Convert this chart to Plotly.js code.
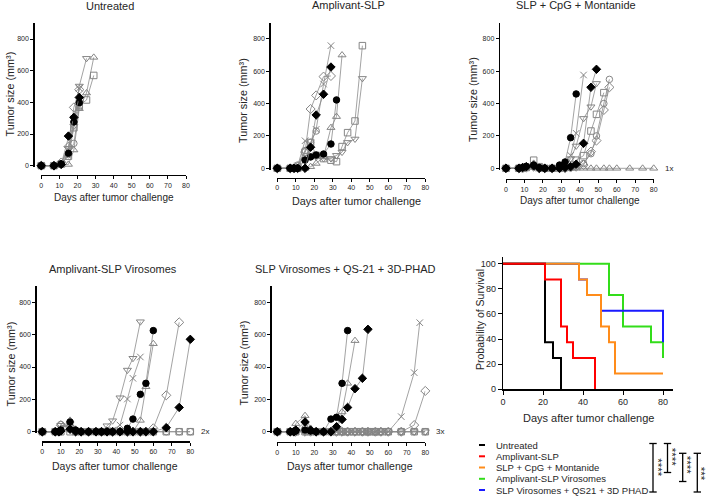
<!DOCTYPE html>
<html><head><meta charset="utf-8">
<script src="https://cdn.plot.ly/plotly-3.0.1.min.js"></script>
<style>body{margin:0;background:#fff}#chart{width:708px;height:499px}</style>
</head><body><div id="chart"></div>
<script>
// ---------- DATA ----------
const PANEL_TITLES = ['Untreated','Amplivant-SLP','SLP + CpG + Montanide','Amplivant-SLP Virosomes','SLP Virosomes + QS-21 + 3D-PHAD'];
const X_TICKS = [0,10,20,30,40,50,60,70,80];
const Y_TICKS = [0,200,400,600,800];
const SURV_X_TICKS = [0,20,40,60,80];
const SURV_Y_TICKS = [0,20,40,60,80,100];

// Panel 1: Untreated
const P1_DAYS = [0,7,11,15,18,21,25,29];
const P1_TU = [0,0,5,8,99,360,459,684];
const P1_TD = [0,0,15,110,250,503,678];
const P1_SQ = [0,0,10,60,240,380,415,570];
const P1_OC = [0,0,10,70,141,370];
const P1_OD = [0,0,20,120,368,480];
const P1_X  = [0,0,15,100,300,490];
const P1_FC = [0,0,12,78,276,398];
const P1_FD = [0,0,8,187,305,431];

// Panel 2: Amplivant-SLP
const P2_DAYS = [0,7,9,11,15,18,21,25,29,32,35,38,42,46];
const P2_TU = [0,0,0,0,0,10,30,70,251,319,699];
const P2_TD = [0,0,0,0,50,80,70,60,60,80,100,160,181,555];
const P2_SQ = [0,0,0,0,100,160,80,60,50,41,134,220,292,757];
const P2_OC = [0,0,0,20,110,160,230];
const P2_OD = [0,0,0,10,100,366,450,566,570];
const P2_X  = [0,0,0,15,170,150,240,520,757];
const P2_FC = [0,0,0,0,51,70,82,88,150,422];
const P2_FD = [0,0,0,0,0,130,329,457,625];

// Panel 3: SLP + CpG + Montanide
const P3_DAYS = [0,7,9,11,15,18,21,25,29,32,35,38,42,46,49,53,56,60,67,74,80];
const P3_TU = [0,0,0,5,30,0,0,0,0,0,0,0,0,0,0,0,0,0,0,0,0];
const P3_TD = [0,0,0,5,10,0,0,0,0,10,60,138,308,380,524];
const P3_SQ = [0,0,0,5,50,10,0,0,0,5,20,50,78,230,333,467];
const P3_OC = [0,0,0,5,10,5,0,0,0,0,5,10,30,90,200,400,549];
const P3_OD = [0,0,0,5,10,0,0,0,0,0,5,10,20,103,171,360,500];
const P3_X  = [0,0,0,5,10,0,0,0,5,10,80,216,576];
const P3_FC = [0,0,5,12,20,5,0,0,20,39,189,459];
const P3_FD = [0,0,5,10,15,0,0,0,0,5,10,25,154,500,611];

// Panel 4: Amplivant-SLP Virosomes
const P4_DAYS = [0,7,9,10,15,18,21,25,29,32,35,38,42,46,49,53,56,60,67,74,80];
const P4_TU = [0,0,0,20,70,15,0,0,0,0,0,0,0,0,0,70,278,544];
const P4_TD = [0,0,0,40,30,10,0,0,0,0,37,68,210,381,454,680];
const P4_SQ = [0,0,0,0,0,0,0,0,0,0,0,0,0,0,0,0,0,0,0,0,0];
const P4_OC = [0,0,0,45,20,0,0,0,0,0,0,0,0,0,0,0,0,0,0,0,0];
const P4_OD = [0,0,0,40,30,5,0,0,0,0,0,0,0,0,0,0,0,21,225,676];
const P4_X  = [0,0,0,10,20,0,0,0,0,0,0,10,41,202,330,462];
const P4_FC = [0,0,0,10,60,10,0,0,0,0,0,0,0,21,78,231,299,625];
const P4_FD = [0,0,0,5,15,0,0,0,0,0,0,0,0,0,0,0,0,0,25,150,571];

// Panel 5: SLP Virosomes + QS-21 + 3D-PHAD
const P5_DAYS = [0,7,9,10,15,18,21,25,29,32,35,38,42,46,49,53,56,60,67,74,77,80];
const P5_SQ_DAYS = [0,7,9,10,15,18,21,25,29,32,35,37,39,41,43,45,47,49,51,53,55,57,60,67,74,80];
const P5_SQ = [0,0,0,0,0,0,0,0,0,0,0,0,0,0,0,0,0,0,0,0,0,0,0,0,0,0];
const P5_TU = [0,0,0,50,99,20,0,0,5,30,122,299,563];
const P5_TD = [0,0,0,0,0,0,0,0,0,0,0,0,0,0,0,0,0,0,0,0,null,0];
const P5_OC = [0,0,0,10,20,0,0,0,0,0,0,0,0,0,0,0,0,0,0,0,null,0];
const P5_OD = [0,0,0,0,0,0,0,0,0,0,0,0,0,0,0,0,0,0,0,41,null,252];
const P5_X  = [0,0,0,0,5,0,0,0,0,0,0,0,0,0,0,0,0,0,93,365,674];
const P5_FC = [0,0,0,5,10,5,0,0,78,89,299,625];
const P5_FD = [0,0,0,10,60,10,0,0,0,31,76,150,266,330,633];

// Survivors labels
const SURVIVOR_LABELS = ['', '', '1x', '2x', '3x'];

// Survival (Kaplan-Meier)
const GROUPS = ['Untreated','Amplivant-SLP','SLP + CpG + Montanide','Amplivant-SLP Virosomes','SLP Virosomes + QS21 + 3D PHAD'];
const S_UNT_T = [0,21,25,29];          const S_UNT_P = [100,37.5,25,0];
const S_AMP_T = [0,21,29,32,35,46];    const S_AMP_P = [100,87.5,50,37.5,25,0];
const S_CPG_T = [0,38,42,49,53,56,80]; const S_CPG_P = [100,87.5,75,50,37.5,12.5,12.5];
const S_VIR_T = [0,53,60,74,80];       const S_VIR_P = [100,75,50,37.5,25];
const S_QS_T  = [0,38,42,49,80];       const S_QS_P  = [100,87.5,75,62.5,37.5];
const SIG_STARS = ['****','****','****','***'];

// ---------- STYLE / LAYOUT ----------
const W = 708, H = 499;
const fx = p => p / W, fy = p => 1 - p / H;
const FONT = 'Arial, "Liberation Sans", sans-serif';
const TXT = '#262626';
const COLORS = ['#000000','#ff0000','#ff8c1a','#33dd1a','#1a1aff'];
const GRAY = '#858585';
const STYLE = {
  tu:{symbol:'triangle-up-open', size:7, color:GRAY},
  td:{symbol:'triangle-down-open', size:7, color:GRAY},
  sq:{symbol:'square-open', size:6.5, color:GRAY},
  oc:{symbol:'circle-open', size:6.5, color:GRAY},
  od:{symbol:'diamond-open', size:7, color:GRAY},
  x:{symbol:'x-thin-open', size:6.5, color:GRAY},
  fc:{symbol:'circle', size:6.5, color:'#000'},
  fd:{symbol:'diamond', size:6.5, color:'#000'}
};
// pixel geometry of each growth panel: x-domain, y(0), y(800), y-axis line x, x-axis line y
const GEO = [
  {x0:41.3, x1:186,   y0:165.7, y800:39,    yl:33.3,  xl:175},
  {x0:277.3,x1:425.3, y0:168.3, y800:38.7,  yl:269.3, xl:177.7},
  {x0:506,  x1:653.7, y0:168.3, y800:38.7,  yl:498.7, xl:179},
  {x0:42.3, x1:190.3, y0:431.7, y800:302.3, yl:35.3,  xl:441.3},
  {x0:277.3,x1:425.3, y0:431.7, y800:302.3, yl:270.3, xl:442}
];

const panels = [
  {days:P1_DAYS, mice:{tu:P1_TU,td:P1_TD,sq:P1_SQ,oc:P1_OC,od:P1_OD,x:P1_X,fc:P1_FC,fd:P1_FD}},
  {days:P2_DAYS, mice:{tu:P2_TU,td:P2_TD,sq:P2_SQ,oc:P2_OC,od:P2_OD,x:P2_X,fc:P2_FC,fd:P2_FD}},
  {days:P3_DAYS, mice:{tu:P3_TU,td:P3_TD,sq:P3_SQ,oc:P3_OC,od:P3_OD,x:P3_X,fc:P3_FC,fd:P3_FD}},
  {days:P4_DAYS, mice:{tu:P4_TU,td:P4_TD,sq:P4_SQ,oc:P4_OC,od:P4_OD,x:P4_X,fc:P4_FC,fd:P4_FD}},
  {days:P5_DAYS, mice:{sq:P5_SQ,tu:P5_TU,td:P5_TD,oc:P5_OC,od:P5_OD,x:P5_X,fc:P5_FC,fd:P5_FD}, sqDays:P5_SQ_DAYS}
];

const traces = [];
const layout = {
  width:W, height:H, autosize:false, margin:{l:0,r:0,t:0,b:0},
  paper_bgcolor:'#fff', plot_bgcolor:'rgba(0,0,0,0)', showlegend:false,
  font:{family:FONT, color:TXT}, annotations:[], shapes:[]
};
const YMIN = -8, YMAX = 900;
const axisBase = {showline:true, linecolor:'#000', linewidth:1.3, ticks:'outside', ticklen:3, tickwidth:1,
  tickcolor:'#000', showgrid:false, zeroline:false, fixedrange:true};

function ann(text, x, y, size, extra) {
  layout.annotations.push(Object.assign({text, xref:'paper', yref:'paper', x:fx(x), y:fy(y),
    xanchor:'center', yanchor:'middle', showarrow:false, font:{size, color:TXT, family:FONT}}, extra||{}));
}

panels.forEach((p, i) => {
  const n = i + 1, g = GEO[i];
  const sc = (g.y0 - g.y800) / 800;
  const yTop = g.y0 - YMAX * sc, yBot = g.y0 - YMIN * sc;
  const xa = 'x' + (n === 1 ? '' : n), ya = 'y' + (n === 1 ? '' : n);
  layout['xaxis' + (n === 1 ? '' : n)] = Object.assign({}, axisBase, {
    domain:[fx(g.x0), fx(g.x1)], range:[0,80], anchor:'free', position:fy(g.xl),
    tickvals:X_TICKS, tickfont:{size:7, color:TXT}});
  layout['yaxis' + (n === 1 ? '' : n)] = Object.assign({}, axisBase, {
    domain:[fy(yBot), fy(yTop)], range:[YMIN, YMAX], anchor:'free', position:fx(g.yl),
    tickvals:Y_TICKS, tickfont:{size:7, color:TXT}});
  Object.keys(p.mice).forEach(k => {
    const vals = p.mice[k], st = STYLE[k];
    const days = (k === 'sq' && p.sqDays) ? p.sqDays : p.days;
    traces.push({type:'scatter', mode:'lines+markers', x:days.slice(0, vals.length), y:vals,
      xaxis:xa, yaxis:ya, connectgaps:true, cliponaxis:false, hoverinfo:'skip',
      line:{color:'#8c8c8c', width:0.8},
      marker:{symbol:st.symbol, size:st.size, color:st.color, line:{color:st.color, width:1}}});
  });
  if (SURVIVOR_LABELS[i]) {
    layout.annotations.push({text:SURVIVOR_LABELS[i], xref:xa, yref:ya, x:80, y:0, xanchor:'left',
      yanchor:'middle', xshift:9, showarrow:false, font:{size:8, color:TXT, family:FONT}});
  }
});

// Panel titles
ann(PANEL_TITLES[0], 109.5, 6, 11);
ann(PANEL_TITLES[1], 348.5, 5, 11);
ann(PANEL_TITLES[2], 575.5, 5, 11);
ann(PANEL_TITLES[3], 112.5, 269, 11);
ann(PANEL_TITLES[4], 345.7, 269, 11);
// X titles
const XT = 'Days after tumor challenge';
ann(XT, 113.7, 197, 10); ann(XT, 356.5, 201, 10.8); ann(XT, 580.3, 200.7, 10);
ann(XT, 115, 466, 10.5); ann(XT, 350, 466, 10.5); ann(XT, 588, 418.3, 11);
// Y titles
const YT = 'Tumor size (mm³)';
ann(YT, 9.5, 94, 10.8, {textangle:-90}); ann(YT, 243, 100, 10.8, {textangle:-90});
ann(YT, 473, 100, 10.8, {textangle:-90}); ann(YT, 10.5, 364, 10.8, {textangle:-90});
ann(YT, 243, 362.5, 10.8, {textangle:-90});
ann('Probability of Survival', 480, 320, 10.5, {textangle:-90});

// Survival panel
layout.xaxis6 = Object.assign({}, axisBase, {domain:[fx(503), fx(673)], range:[0,85], anchor:'y6',
  tickvals:SURV_X_TICKS, ticklen:4, tickfont:{size:9, color:TXT}});
layout.yaxis6 = Object.assign({}, axisBase, {domain:[fy(389.3), fy(257.4)], range:[0,105], anchor:'x6',
  tickvals:SURV_Y_TICKS, ticklen:4, tickfont:{size:9, color:TXT}});
const surv = [[S_VIR_T,S_VIR_P,3],[S_QS_T,S_QS_P,4],[S_CPG_T,S_CPG_P,2],[S_UNT_T,S_UNT_P,0],[S_AMP_T,S_AMP_P,1]];
surv.forEach(([t,pc,ci]) => traces.push({type:'scatter', mode:'lines', x:t, y:pc, xaxis:'x6', yaxis:'y6',
  line:{shape:'hv', color:COLORS[ci], width:2}, hoverinfo:'skip', name:GROUPS[ci]}));

// Custom legend
const LEG_Y = [445, 456.3, 467.5, 478.8, 490];
GROUPS.forEach((gname, i) => {
  layout.shapes.push({type:'line', xref:'paper', yref:'paper', x0:fx(479), x1:fx(485), y0:fy(LEG_Y[i]), y1:fy(LEG_Y[i]),
    line:{color:COLORS[i], width:2}});
  ann(gname, 493.5, LEG_Y[i], 9.5, {xanchor:'left'});
});
// Significance brackets
const BR = [{x:653, y0:443.5, y1:492}, {x:667.5, y0:443.5, y1:472.5}, {x:682.7, y0:453.3, y1:481.5}, {x:697.3, y0:453.3, y1:492}];
const STAR_POS = [[657.8, 467], [672.8, 456.5], [687.8, 464.5], [701.8, 473.5]];
BR.forEach((b, i) => {
  const L = (x0,y0,x1,y1) => layout.shapes.push({type:'line', xref:'paper', yref:'paper',
    x0:fx(x0), x1:fx(x1), y0:fy(y0), y1:fy(y1), line:{color:'#000', width:1.3}});
  L(b.x, b.y0, b.x, b.y1); L(b.x-3.7, b.y0, b.x+3.7, b.y0); L(b.x-3.7, b.y1, b.x+3.7, b.y1);
  ann(SIG_STARS[i], STAR_POS[i][0], STAR_POS[i][1], 11.5, {textangle:90});
});

Plotly.newPlot('chart', traces, layout, {staticPlot:true, displayModeBar:false});
</script></body></html>
